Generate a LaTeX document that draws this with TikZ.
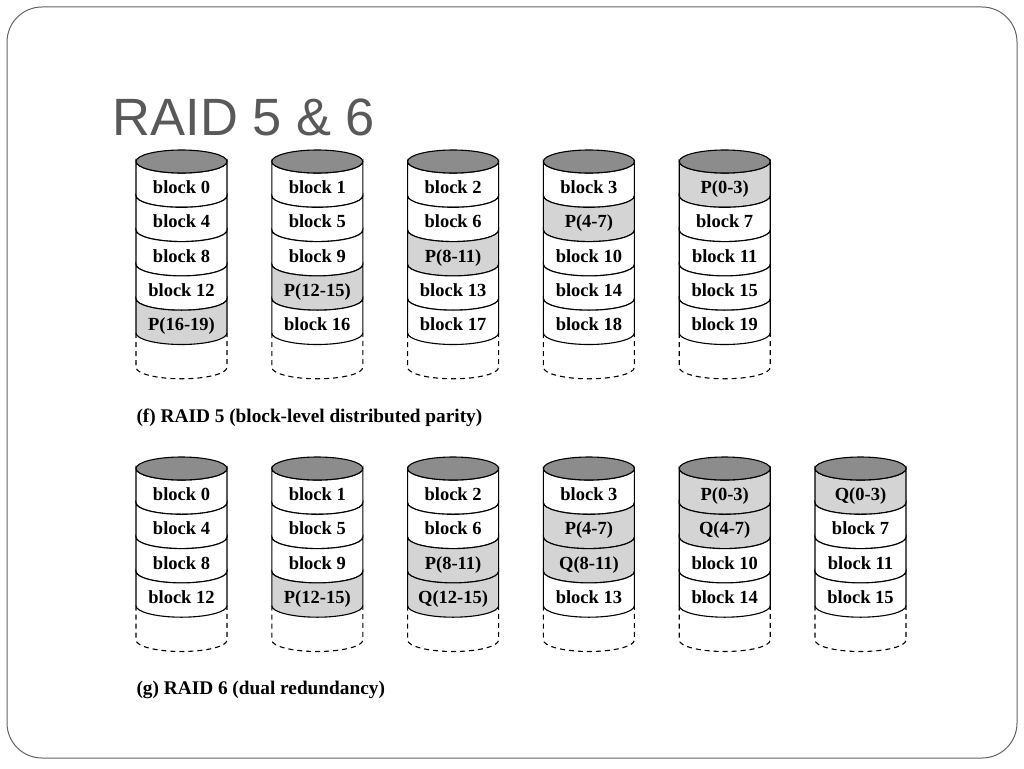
\documentclass[tikz,border=0pt]{standalone}
\usepackage{fontspec}
\setmainfont{Liberation Serif}
\newfontfamily\titlefont{Liberation Sans}
\usepackage{xcolor}
\usepackage{tikz}

\definecolor{pw}{RGB}{255,255,255}
\definecolor{pg}{RGB}{212,212,212}
\definecolor{topgray}{RGB}{140,140,140}
\definecolor{titlegray}{RGB}{89,89,89}
\definecolor{framegray}{RGB}{100,100,100}

\tikzset{
  blk/.style={anchor=base, inner sep=0pt, font=\fontsize{18.5}{22}\selectfont\bfseries},
  captxt/.style={anchor=base west, inner sep=0pt, font=\fontsize{19.3}{22}\selectfont\bfseries},
  spare/.style={dash pattern=on 5pt off 4pt},
}

\begin{document}
\begin{tikzpicture}[x=1pt,y=1pt,line width=1.1pt]
  \useasboundingbox (0,0) rectangle (1024,-768);
  \draw[framegray, line width=1pt, rounded corners=35pt] (7,-7) rectangle (1017,-758);

  \node[anchor=base west, inner sep=0pt, text=titlegray, font=\titlefont\fontsize{52.5}{60}\selectfont] (title) at (112,-135) {RAID 5 \& 6};

  % RAID 5
  \foreach \list [count=\c from 0] in {
      {pw/block 0, pw/block 4, pw/block 8, pw/block 12, pg/P(16-19)},
      {pw/block 1, pw/block 5, pw/block 9, pg/P(12-15), pw/block 16},
      {pw/block 2, pw/block 6, pg/P(8-11), pw/block 13, pw/block 17},
      {pw/block 3, pg/P(4-7), pw/block 10, pw/block 14, pw/block 18},
      {pg/P(0-3), pw/block 7, pw/block 11, pw/block 15, pw/block 19}}{
    \pgfmathsetmacro\L{136+135.8*\c}
    \foreach \f/\t [count=\k] in \list {
      \filldraw[fill=\f] (\L,{-161.5-(\k-1)*34.3}) -- (\L,{-161.5-\k*34.3})
        arc[start angle=180, end angle=360, x radius=45.5, y radius=11.5]
        -- ({\L+91},{-161.5-(\k-1)*34.3})
        arc[start angle=0, end angle=-180, x radius=45.5, y radius=11.5] -- cycle;
      \node[blk] (f\c-\k) at ({\L+45.5},{-161.5-(\k-0.5)*34.3-15}) {\t};
    }
    \filldraw[fill=topgray] ({\L+45.5},-161.5) ellipse[x radius=45.5, y radius=11.5];
    \draw[spare] (\L,{-161.5-5*34.3}) -- (\L,{-161.5-6*34.3})
      arc[start angle=180, end angle=360, x radius=45.5, y radius=11.5]
      -- ({\L+91},{-161.5-5*34.3});
  }
  \node[captxt] (capf) at (136,-422) {(f) RAID 5 (block-level distributed parity)};

  % RAID 6
  \foreach \list [count=\c from 0] in {
      {pw/block 0, pw/block 4, pw/block 8, pw/block 12},
      {pw/block 1, pw/block 5, pw/block 9, pg/P(12-15)},
      {pw/block 2, pw/block 6, pg/P(8-11), pg/Q(12-15)},
      {pw/block 3, pg/P(4-7), pg/Q(8-11), pw/block 13},
      {pg/P(0-3), pg/Q(4-7), pw/block 10, pw/block 14},
      {pg/Q(0-3), pw/block 7, pw/block 11, pw/block 15}}{
    \pgfmathsetmacro\L{136+135.8*\c}
    \foreach \f/\t [count=\k] in \list {
      \filldraw[fill=\f] (\L,{-468.5-(\k-1)*34.3}) -- (\L,{-468.5-\k*34.3})
        arc[start angle=180, end angle=360, x radius=45.5, y radius=11.5]
        -- ({\L+91},{-468.5-(\k-1)*34.3})
        arc[start angle=0, end angle=-180, x radius=45.5, y radius=11.5] -- cycle;
      \node[blk] (g\c-\k) at ({\L+45.5},{-468.5-(\k-0.5)*34.3-15}) {\t};
    }
    \filldraw[fill=topgray] ({\L+45.5},-468.5) ellipse[x radius=45.5, y radius=11.5];
    \draw[spare] (\L,{-468.5-4*34.3}) -- (\L,{-468.5-5*34.3})
      arc[start angle=180, end angle=360, x radius=45.5, y radius=11.5]
      -- ({\L+91},{-468.5-4*34.3});
  }
  \node[captxt] (capg) at (136,-694) {(g) RAID 6 (dual redundancy)};
\end{tikzpicture}
\end{document}
